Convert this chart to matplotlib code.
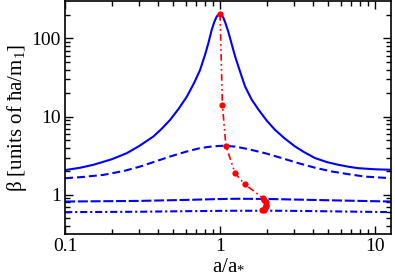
import matplotlib
matplotlib.use("Agg")
import matplotlib.pyplot as plt
from matplotlib.ticker import LogLocator, NullFormatter, FixedLocator, FixedFormatter

plt.rcParams['font.family'] = ['Liberation Serif', 'DejaVu Serif']
plt.rcParams['mathtext.fontset'] = 'custom'
plt.rcParams['mathtext.rm'] = 'Liberation Serif'
plt.rcParams['mathtext.it'] = 'Liberation Serif'

# solid curve
x_solid = [0.1, 0.125, 0.152, 0.2, 0.25, 0.3, 0.371, 0.42, 0.476, 0.54, 0.61, 0.68, 0.743, 0.8, 0.84,
           0.883, 0.92, 0.95, 0.975, 1.0, 1.025, 1.05, 1.08, 1.13, 1.19, 1.25, 1.35, 1.45, 1.6, 1.77,
           2.0, 2.26, 2.6, 3.05, 3.5, 4.1, 4.9, 5.8, 6.8, 7.8, 10.0, 12.7]
y_solid = [2.07, 2.22, 2.42, 2.85, 3.41, 4.2, 5.57, 7.0, 9.1, 12.6, 18.0, 27.0, 39.6, 62.0, 87.0,
           129.0, 165.0, 190.0, 202.0, 206.0, 200.0, 184.0, 160.0, 122.0, 84.0, 59.0, 37.0, 24.3, 16.5, 12.3,
           8.9, 6.8, 5.3, 4.15, 3.5, 2.95, 2.62, 2.42, 2.28, 2.19, 2.12, 2.09]

# dashed curve
x_dash = [0.1, 0.13, 0.177, 0.24, 0.305, 0.38, 0.476, 0.6, 0.743, 0.9, 1.05, 1.25, 1.5, 1.95, 2.5,
          3.2, 4.1, 5.25, 6.8, 8.6, 12.7]
y_dash = [1.63, 1.69, 1.80, 2.02, 2.30, 2.66, 3.09, 3.55, 3.96, 4.17, 4.24, 4.14, 3.86, 3.41, 2.95,
          2.54, 2.22, 1.99, 1.83, 1.71, 1.63]

# long-dashed curve
x_ldash = [0.1, 0.3, 0.6, 1.0, 1.3, 2.0, 3.0, 6.0, 12.7]
y_ldash = [0.82, 0.835, 0.86, 0.883, 0.89, 0.885, 0.87, 0.845, 0.82]

# dash-dot curve
x_dd = [0.1, 0.3, 0.6, 1.2, 2.5, 5.0, 12.7]
y_dd = [0.600, 0.607, 0.617, 0.625, 0.625, 0.615, 0.600]

# red points
x_red = [1.0, 1.035, 1.09, 1.25, 1.44, 1.89, 1.93, 1.97, 1.99, 1.99, 1.96, 1.91, 1.87]
y_red = [205.0, 14.2, 4.24, 1.89, 1.37, 0.91, 0.86, 0.80, 0.75, 0.71, 0.67, 0.645, 0.63]

fig = plt.figure(figsize=(3.95, 2.80), dpi=100)
ax = fig.add_axes([0.165, 0.165, 0.825, 0.830])

blue = '#0000ff'
lw = 1.5
ax.plot(x_solid, y_solid, color=blue, lw=lw)
ax.plot(x_dash, y_dash, color=blue, lw=lw, dashes=(3.8, 1.9))
ax.plot(x_ldash, y_ldash, color=blue, lw=lw, dashes=(4.8, 1.3))
ax.plot(x_dd, y_dd, color=blue, lw=lw, dashes=(3.4, 1.4, 1.0, 1.4))
ax.plot(x_red, y_red, color='#ff0000', lw=1.2, dashes=(4, 2, 1, 2, 1, 2),
        marker='o', markersize=4.5, markeredgewidth=0)

ax.set_xscale('log')
ax.set_yscale('log')
ax.set_xlim(0.1, 12.7)
ax.set_ylim(0.317, 298)

ax.xaxis.set_major_locator(FixedLocator([0.1, 1, 10]))
ax.xaxis.set_major_formatter(FixedFormatter(['0.1', '1', '10']))
ax.yaxis.set_major_locator(FixedLocator([1, 10, 100]))
ax.yaxis.set_major_formatter(FixedFormatter(['1', '10', '100']))
ax.xaxis.set_minor_locator(LogLocator(base=10, subs=range(2, 10)))
ax.yaxis.set_minor_locator(LogLocator(base=10, subs=range(2, 10)))
ax.xaxis.set_minor_formatter(NullFormatter())
ax.yaxis.set_minor_formatter(NullFormatter())

ax.tick_params(which='both', direction='in', top=True, right=True, labelsize=14, width=1.0)
ax.tick_params(which='major', length=6, pad=3)
ax.tick_params(which='minor', length=3.5)
for s in ax.spines.values():
    s.set_linewidth(1.2)

ax.set_xlabel('a/a$_{*}$', fontsize=15, labelpad=0)
ax.set_ylabel('β [units of ħa/m$_{1}$]', fontsize=15, labelpad=2)

fig.savefig('out.png', dpi=100)
